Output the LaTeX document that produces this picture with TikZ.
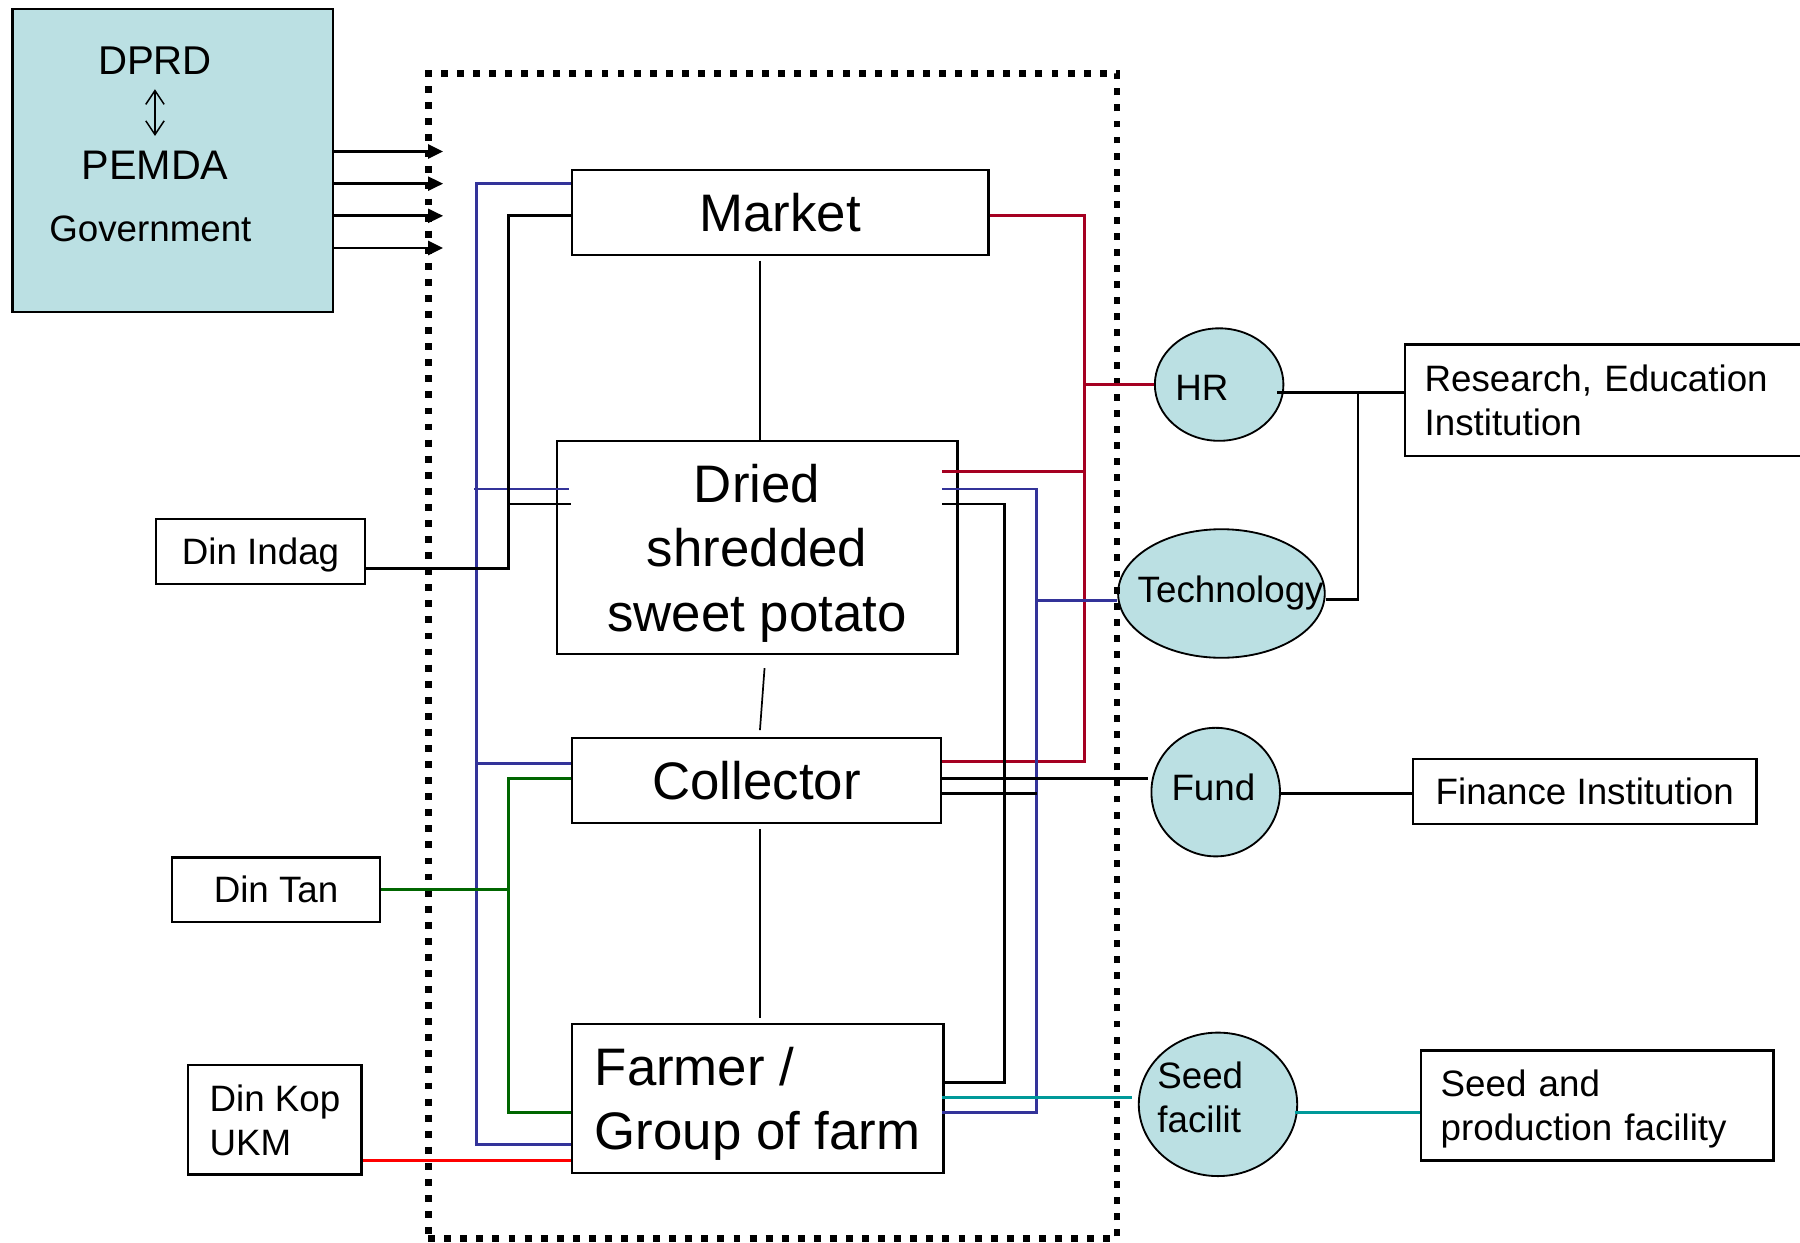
\documentclass[tikz,border=0pt]{standalone}
\usepackage{fontspec}
\setmainfont{Liberation Sans}
\usetikzlibrary{shapes.geometric,arrows.meta,calc}
\definecolor{bub}{RGB}{187,224,227}
\definecolor{dred}{RGB}{165,0,33}
\definecolor{dblue}{RGB}{51,51,153}
\definecolor{dgreen}{RGB}{0,102,0}
\definecolor{cteal}{RGB}{0,153,153}
\begin{document}
\begin{tikzpicture}[x=1pt,y=-1pt,
  box/.style={draw, line width=2pt, fill=white, inner sep=0pt, text depth=0pt},
  bubble/.style={ellipse, draw, line width=1.6pt, fill=bub, inner sep=0pt},
  txt/.style={inner sep=0pt, text depth=0pt},
  fbig/.style={font=\fontsize{46}{56}\selectfont},
  fmid/.style={font=\fontsize{32}{38.5}\selectfont},
  link/.style={line width=2.5pt},
  lnblack/.style={link, draw=black},
  lnred/.style={link, draw=dred},
  lnblue/.style={link, draw=dblue},
  lngreen/.style={link, draw=dgreen},
  lnteal/.style={link, draw=cteal},
  lnbright/.style={line width=2.8pt, draw=red},
  thinlink/.style={line width=1.5pt, draw=black},
  govarrow/.style={line width=2.5pt, -{Triangle[length=13pt,width=12pt]}},
  sysbox/.style={draw, line width=6pt, dash pattern=on 6pt off 8pt, inner sep=0pt}
]
\useasboundingbox (0,0) rectangle (1568,1082);

% ---------- government ----------
\node[draw, line width=2pt, fill=bub, minimum width=279pt, minimum height=264pt, inner sep=0pt] (gov) at (150.5,140) {};
\node[txt, font=\fontsize{35}{42}\selectfont] (dprd) at (135,53) {DPRD};
\node[txt, font=\fontsize{36}{42}\selectfont] (pemda) at (135,144) {PEMDA};
\node[txt, font=\fontsize{32}{38}\selectfont] (govt) at (131,199) {Government};
\draw[line width=1.3pt, {Straight Barb[length=12pt,width=16pt]}-{Straight Barb[length=12pt,width=16pt]}, shorten <=12.5pt, shorten >=13pt] (dprd.south) -- (pemda.north);

% ---------- bubbles ----------
\node[bubble, minimum width=112pt, minimum height=98pt] (hr) at (1062,335) {};
\node[txt, fmid] (hrt) at (1047,338) {HR};
\node[bubble, minimum width=180pt, minimum height=112pt] (tech) at (1064,517) {};
\node[txt, fmid] (techt) at (1072,513) {Technology};
\node[bubble, minimum width=112pt, minimum height=112pt] (fund) at (1059,690) {};
\node[txt, fmid] (fundt) at (1057,686) {Fund};
\node[bubble, minimum width=138pt, minimum height=125pt] (seedf) at (1061,962) {};
\node[txt, fmid, align=left, anchor=west] (seedft) at (1008,956) {Seed\\facilit};

% ---------- boxes ----------
\node[box, fbig, minimum width=363pt, minimum height=74pt] (market) at (679.5,185) {Market};
\node[box, fbig, minimum width=349pt, minimum height=186pt, align=center] (dried) at (659.5,477) {Dried\\shredded\\sweet potato};
\node[box, fbig, minimum width=322pt, minimum height=74pt] (collector) at (659,680) {Collector};
\node[box, fbig, minimum width=324pt, minimum height=130pt, align=left] (farmer) at (660,957) {Farmer /\\Group of farm};

\node[box, fmid, minimum width=182pt, minimum height=57pt] (dinindag) at (227,480.5) {Din Indag\hspace{10pt}};
\node[box, fmid, minimum width=181pt, minimum height=56pt] (dintan) at (240.5,775) {Din Tan};
\node[box, fmid, minimum width=151pt, minimum height=95pt, align=left] (dinkop) at (239.5,975.5) {Din Kop\\UKM};

\node[box, fmid, minimum width=351pt, minimum height=97pt, text width=317pt, inner xsep=17pt, align=left, text depth=38.5pt] (research) at (1399.5,348.5) {Research, Education\\Institution};
\node[box, fmid, minimum width=299pt, minimum height=57pt] (finance) at (1380.5,689.5) {Finance Institution};
\node[box, fmid, minimum width=307pt, minimum height=96pt, text width=273pt, inner xsep=17pt, align=left, text depth=38.5pt] (seedbox) at (1391.5,963) {Seed and\\production facility};

% ---------- dotted system boundary ----------
\node[sysbox, minimum width=600pt, minimum height=1015pt] (sys) at (673,571.5) {};

% ---------- government arrows ----------
\coordinate (a1) at (386,132);
\coordinate (a2) at (386,160);
\coordinate (a3) at (386,188);
\coordinate (a4) at (386,216);
\draw[govarrow] ($(gov.east)+(0,-8)$) -- (a1);
\draw[govarrow] ($(gov.east)+(0,20)$) -- (a2);
\draw[govarrow] ($(gov.east)+(0,48)$) -- (a3);
\draw[govarrow] ($(gov.east)+(0,76)$) -- (a4);

% ---------- centre chain ----------
\draw[thinlink] ($(market.south)+(-17.5,4)$) -- ($(dried.north)+(2.5,0)$);
\draw[thinlink] ($(dried.south)+(6.5,11)$) -- ($(collector.north)+(3,-6)$);
\draw[thinlink] ($(collector.south)+(3,4)$) -- ($(farmer.north)+(2,-4)$);

% ---------- left connectors ----------
\draw[lnblue] ($(market.west)+(0,-25)$) -- (415,160) -- (415,997) -- ($(farmer.west)+(0,40)$);
\draw[lnblue] (413,426) -- ($(dried.west)+(12,-51)$);
\draw[lnblue] (415,665) -- ($(collector.west)+(0,-15)$);
\draw[lnblack] ($(market.west)+(0,3)$) -- (443,188) -- (443,495) -- ($(dinindag.east)+(0,14.5)$);
\draw[lnblack] (443,439) -- ($(dried.west)+(13,-38)$);
\draw[lngreen] ($(collector.west)+(0,-2)$) -- (443,678) -- (443,969) -- ($(farmer.west)+(0,12)$);
\draw[lngreen] (dintan.east) -- (443,775);
\draw[lnbright] ($(dinkop.east)+(0,35.5)$) -- ($(farmer.west)+(0,54)$);

% ---------- right connectors ----------
\draw[lnred] ($(market.east)+(0,3)$) -- (945,188) -- (945,663) -- ($(collector.east)+(0,-17)$);
\draw[lnred] ($(dried.east)+(-14,-66)$) -- (945,411);
\draw[lnred] (945,335) -- (hr.west);
\draw[lnblue] ($(dried.east)+(-14,-51)$) -- (903,426) -- (903,969) -- ($(farmer.east)+(-2,12)$);
\draw[lnblue] (903,523) -- ($(tech.west)+(0,6)$);
\draw[lnblack] ($(dried.east)+(-14,-38)$) -- (875,439) -- (875,943) -- ($(farmer.east)+(-2,-14)$);
\draw[lnblack] ($(collector.east)+(0,-2)$) -- ($(fund.west)+(-2,-12)$);
\draw[lnblack] ($(collector.east)+(0,11)$) -- (903,691);
\draw[lnteal] ($(farmer.east)+(-2,-1)$) -- ($(seedf.west)+(-5,-6)$);

% ---------- outer connectors ----------
\draw[lnblack] ($(hr.east)+(-6,7)$) -- ($(research.west)+(0,-6.5)$);
\draw[lnblack] ($(tech.east)+(0,5)$) -- (1183,522) -- (1183,342);
\draw[lnblack] ($(fund.east)+(-2,1)$) -- ($(finance.west)+(0,1.5)$);
\draw[lnteal] ($(seedf.east)+(-3,7)$) -- ($(seedbox.west)+(0,6)$);
\end{tikzpicture}
\end{document}
